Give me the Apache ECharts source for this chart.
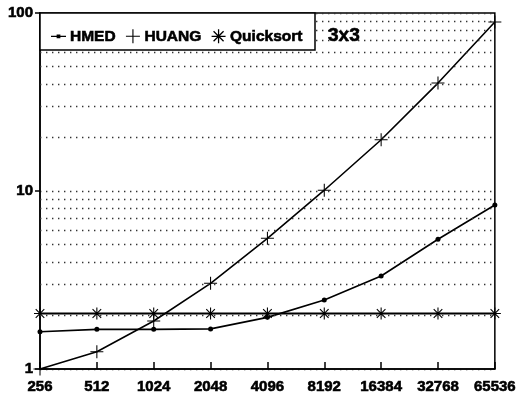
<!DOCTYPE html>
<html>
<head>
<meta charset="utf-8">
<script src="https://cdn.jsdelivr.net/npm/echarts@6/dist/echarts.min.js"></script>
<style>
  html, body { margin: 0; padding: 0; background: #fff; }
  #chart { width: 519px; height: 398px; }
</style>
</head>
<body>
<div id="chart"></div>
<script>
// Problem sizes (x axis) and run-time ratios (log y axis)
const sizes = ['256', '512', '1024', '2048', '4096', '8192', '16384', '32768', '65536'];
const hmed = [1.62, 1.67, 1.67, 1.68, 1.95, 2.44, 3.33, 5.36, 8.34];
const huang = [1.0, 1.25, 1.86, 3.03, 5.42, 10.1, 19.4, 40.4, 89];
const quicksort = [2.05, 2.05, 2.05, 2.05, 2.05, 2.05, 2.05, 2.05, 2.05];
// Minor gridline values between decades
const minorGrid = [2, 3, 4, 5, 6, 7, 8, 9, 20, 30, 40, 50, 60, 70, 80, 90];

const FONT = 'Liberation Sans, Arial, sans-serif';
const plusPath = 'path://M9.2,0h1.6v20h-1.6z M0,9.2h20v1.6h-20z';
const starPath = 'path://M9.1,0h1.8v20h-1.8z M0,9.1h20v1.8h-20z M2.2,3.5L3.5,2.2L17.8,16.5L16.5,17.8z M16.5,2.2L17.8,3.5L3.5,17.8L2.2,16.5z';
const dashPath = 'path://M0,9.2h20v1.6h-20z M7.5,7.5h5v5h-5z';

// heavy bold text, as printed
const heavy = (size) => ({
  fontFamily: FONT, fontWeight: 'bold', fontSize: size, color: '#000',
  textBorderColor: '#000', textBorderWidth: 0.6
});

const dotted = { color: '#333', width: 1.4, type: [1.4, 4.6] };

const chart = echarts.init(document.getElementById('chart'), null, { renderer: 'canvas' });
chart.setOption({
  animation: false,
  backgroundColor: '#fff',
  textStyle: { fontFamily: FONT },
  grid: {
    left: 40, top: 13, width: 456, height: 356,
    show: true, borderColor: '#000', borderWidth: 1.5, backgroundColor: 'transparent'
  },
  title: {
    text: '3x3', left: 323, top: 21,
    textStyle: heavy(19)
  },
  graphic: {
    elements: [{
      type: 'rect', z: 50,
      shape: { x: 40, y: 13, width: 275, height: 37 },
      style: { fill: '#fff', stroke: '#000', lineWidth: 1.5 }
    }]
  },
  legend: {
    z: 60,
    left: 46, top: 23,
    itemWidth: 15, itemHeight: 14, itemGap: 10,
    textStyle: Object.assign(heavy(15.5), { padding: [0, 0, 0, -1] }),
    data: [
      { name: 'HMED', icon: dashPath },
      { name: 'HUANG', icon: plusPath },
      { name: 'Quicksort', icon: starPath }
    ]
  },
  xAxis: {
    type: 'category',
    data: sizes,
    boundaryGap: false,
    axisLine: { lineStyle: { color: '#000', width: 1.5 } },
    axisTick: { inside: true, length: 7, lineStyle: { color: '#000', width: 1.5 } },
    axisLabel: Object.assign({ margin: 10 }, heavy(15)),
    splitLine: { show: false }
  },
  yAxis: {
    type: 'log', logBase: 10, min: 1, max: 100,
    axisLine: { show: true, lineStyle: { color: '#000', width: 1.5 } },
    axisTick: { show: true, length: 5, lineStyle: { color: '#000', width: 1.5 } },
    axisLabel: Object.assign({ margin: 7 }, heavy(15)),
    splitLine: { show: true, lineStyle: dotted }
  },
  series: [
    {
      name: 'HMED', type: 'line', data: hmed,
      symbol: 'circle', symbolSize: 5,
      lineStyle: { color: '#000', width: 1.6 },
      itemStyle: { color: '#000' },
      markLine: {
        silent: true, symbol: 'none', label: { show: false },
        lineStyle: dotted,
        data: minorGrid.map(v => ({ yAxis: v }))
      }
    },
    {
      name: 'HUANG', type: 'line', data: huang,
      symbol: plusPath, symbolSize: 13,
      lineStyle: { color: '#000', width: 1.6 },
      itemStyle: { color: '#000' }
    },
    {
      name: 'Quicksort', type: 'line', data: quicksort,
      symbol: starPath, symbolSize: 12,
      lineStyle: { color: '#000', width: 1.8 },
      itemStyle: { color: '#000' }
    }
  ]
});
</script>
</body>
</html>
